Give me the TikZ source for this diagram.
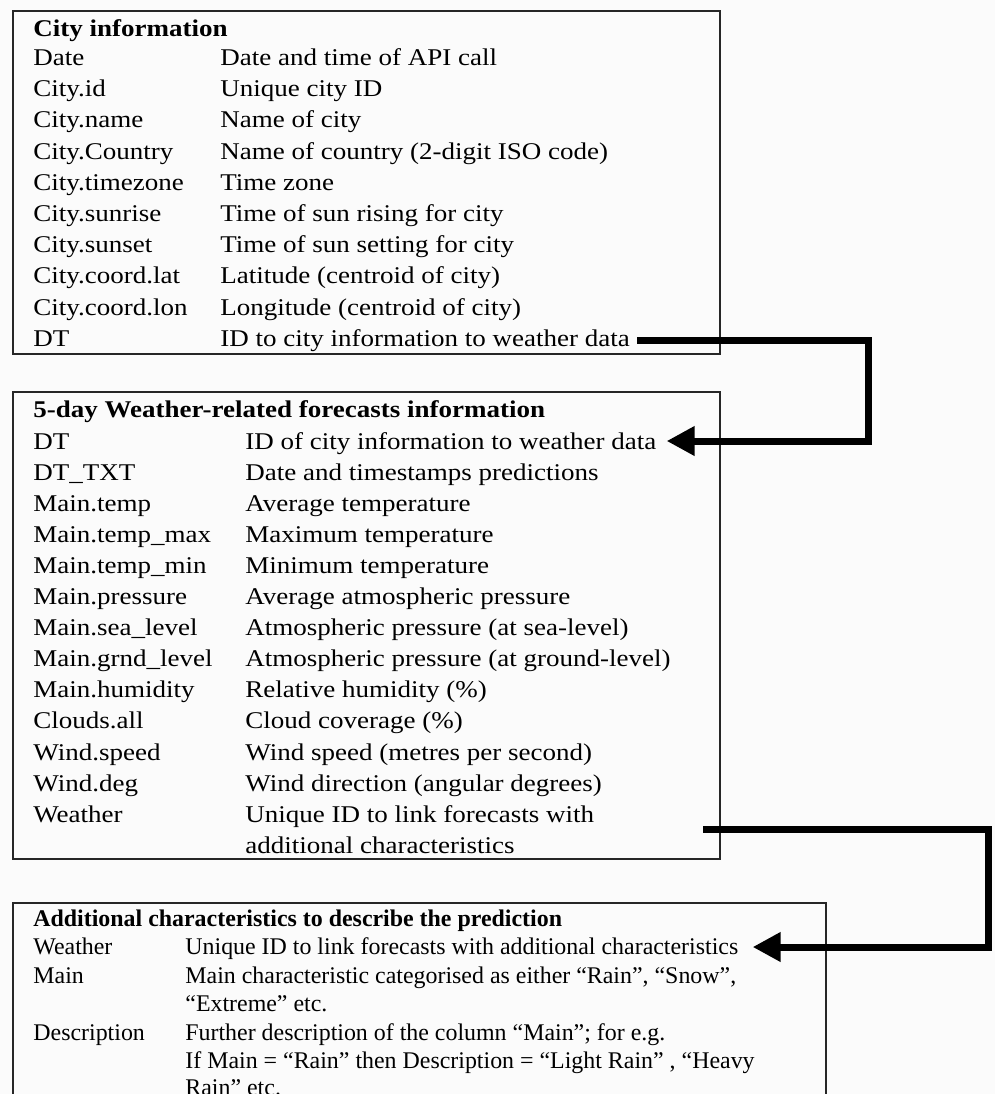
\documentclass[tikz,border=0pt]{standalone}
\usepackage{fontspec}
\setmainfont{Liberation Serif}
\newfontfamily\widerm[FakeStretch=1.125]{Liberation Serif}
\usetikzlibrary{arrows.meta}

\definecolor{paper}{RGB}{251,251,251}
\tikzset{
  panel/.style={draw=black!85, line width=1pt, anchor=north west, inner sep=0pt},
  bigrow/.style={anchor=base west, font=\widerm\fontsize{12}{14}\selectfont},
  bighead/.style={anchor=base west, font=\widerm\fontsize{12}{14}\selectfont\bfseries},
  smallrow/.style={anchor=base west, font=\fontsize{11.95}{14}\selectfont},
  smallhead/.style={anchor=base west, font=\fontsize{11.95}{14}\selectfont\bfseries},
  link/.style={line width=3.5pt, -{Triangle[length=14pt,width=14pt]}}
}

\begin{document}
\begin{tikzpicture}[x=0.5pt,y=0.5pt]
\tikzstyle{every node}+=[inner sep=0pt]
\clip (0,0) rectangle (995,-1094);
\fill [paper] (0,0) rectangle (995,-1094);
\node [panel, minimum width=353.5pt, minimum height=171.5pt] (cityBox) at (12,-10) {};
\node [bighead] (cityHead) at (33,-36.5) {City information};
\node [bigrow] (cityDate) at (33,-65.5) {Date};
\node [bigrow] (cityDated) at (220,-65.5) {Date and time of API call};
\node [bigrow] (cityId) at (33,-96.7) {City.id};
\node [bigrow] (cityIdd) at (220,-96.7) {Unique city ID};
\node [bigrow] (cityName) at (33,-127.9) {City.name};
\node [bigrow] (cityNamed) at (220,-127.9) {Name of city};
\node [bigrow] (cityCountry) at (33,-159.1) {City.Country};
\node [bigrow] (cityCountryd) at (220,-159.1) {Name of country (2-digit ISO code)};
\node [bigrow] (cityZone) at (33,-190.3) {City.timezone};
\node [bigrow] (cityZoned) at (220,-190.3) {Time zone};
\node [bigrow] (cityRise) at (33,-221.5) {City.sunrise};
\node [bigrow] (cityRised) at (220,-221.5) {Time of sun rising for city};
\node [bigrow] (citySet) at (33,-252.7) {City.sunset};
\node [bigrow] (citySetd) at (220,-252.7) {Time of sun setting for city};
\node [bigrow] (cityLat) at (33,-283.9) {City.coord.lat};
\node [bigrow] (cityLatd) at (220,-283.9) {Latitude (centroid of city)};
\node [bigrow] (cityLon) at (33,-315.1) {City.coord.lon};
\node [bigrow] (cityLond) at (220,-315.1) {Longitude (centroid of city)};
\node [bigrow] (cityDT) at (33,-346.3) {DT};
\node [bigrow] (cityDTd) at (220,-346.3) {ID to city information to weather data};

\node [panel, minimum width=353.5pt, minimum height=233.5pt] (fcBox) at (12,-391) {};
\node [bighead] (fcHead) at (33,-417) {5-day Weather-related forecasts information};
\node [bigrow] (fcDT) at (33,-449) {DT};
\node [bigrow] (fcDTd) at (245,-449) {ID of city information to weather data};
\node [bigrow] (fcTxt) at (33,-480.1) {DT\_TXT};
\node [bigrow] (fcTxtd) at (245,-480.1) {Date and timestamps predictions};
\node [bigrow] (fcTemp) at (33,-511.2) {Main.temp};
\node [bigrow] (fcTempd) at (245,-511.2) {Average temperature};
\node [bigrow] (fcMax) at (33,-542.3) {Main.temp\_max};
\node [bigrow] (fcMaxd) at (245,-542.3) {Maximum temperature};
\node [bigrow] (fcMin) at (33,-573.4) {Main.temp\_min};
\node [bigrow] (fcMind) at (245,-573.4) {Minimum temperature};
\node [bigrow] (fcPress) at (33,-604.5) {Main.pressure};
\node [bigrow] (fcPressd) at (245,-604.5) {Average atmospheric pressure};
\node [bigrow] (fcSea) at (33,-635.6) {Main.sea\_level};
\node [bigrow] (fcSead) at (245,-635.6) {Atmospheric pressure (at sea-level)};
\node [bigrow] (fcGrnd) at (33,-666.7) {Main.grnd\_level};
\node [bigrow] (fcGrndd) at (245,-666.7) {Atmospheric pressure (at ground-level)};
\node [bigrow] (fcHum) at (33,-697.8) {Main.humidity};
\node [bigrow] (fcHumd) at (245,-697.8) {Relative humidity (\%)};
\node [bigrow] (fcCloud) at (33,-728.9) {Clouds.all};
\node [bigrow] (fcCloudd) at (245,-728.9) {Cloud coverage (\%)};
\node [bigrow] (fcSpeed) at (33,-760) {Wind.speed};
\node [bigrow] (fcSpeedd) at (245,-760) {Wind speed (metres per second)};
\node [bigrow] (fcDeg) at (33,-791.1) {Wind.deg};
\node [bigrow] (fcDegd) at (245,-791.1) {Wind direction (angular degrees)};
\node [bigrow] (fcWeather) at (33,-822.2) {Weather};
\node [bigrow] (fcWeatherd) at (245,-822.2) {Unique ID to link forecasts with};
\node [bigrow] (fcWeatherdd) at (245,-853.3) {additional characteristics};

\node [panel, minimum width=406.5pt, minimum height=120pt] (addBox) at (12,-902) {};
\node [smallhead] (addHead) at (33,-926) {Additional characteristics to describe the prediction};
\node [smallrow] (addWeather) at (33,-954.5) {Weather};
\node [smallrow] (addWeatherd) at (185,-954.5) {Unique ID to link forecasts with additional characteristics};
\node [smallrow] (addMain) at (33,-983) {Main};
\node [smallrow] (addMaind) at (185,-983) {Main characteristic categorised as either “Rain”, “Snow”,};
\node [smallrow] (addMaindd) at (185,-1011.5) {“Extreme” etc.};
\node [smallrow] (addDesc) at (33,-1040) {Description};
\node [smallrow] (addDescd) at (185,-1040) {Further description of the column “Main”; for e.g.};
\node [smallrow] (addDescdd) at (185,-1068.5) {If Main = “Rain” then Description = “Light Rain” , “Heavy};
\node [smallrow] (addDescddd) at (185,-1095) {Rain” etc.};

\coordinate (bendA) at (868,-400);
\draw [link] ([xshift=3.5pt,yshift=2.7pt]cityDTd.base east) -| (bendA) |- ([xshift=5pt,yshift=4pt]fcDTd.base east);
\coordinate (wxOut) at (703,-829);
\coordinate (bendB) at (988,-890);
\draw [link] (wxOut) -| (bendB) |- ([xshift=7pt,yshift=3.75pt]addWeatherd.base east);
\end{tikzpicture}
\end{document}
